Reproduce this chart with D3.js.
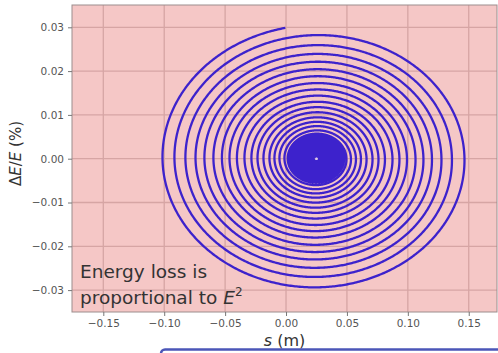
<!DOCTYPE html>
<html>
<head>
<meta charset="utf-8">
<script src="https://cdn.jsdelivr.net/npm/d3@7"></script>
<style>
  body { margin: 0; background: #fff; }
  svg { display: block; font-family: "DejaVu Sans", sans-serif; }
</style>
</head>
<body>
<div id="chart"></div>
<script>
// axis ticks
var xTicks = [-0.15, -0.10, -0.05, 0.00, 0.05, 0.10, 0.15];
var yTicks = [-0.03, -0.02, -0.01, 0.00, 0.01, 0.02, 0.03];

// spiral centre (s, dE/E) and start point
var centre = [0.025, 0.0];
var startS = 0.0;

// horizontal half-axis of the spiral (m), read every half turn (angle = k*pi)
var halfTurnAmp = [
  0.1314, 0.1264, 0.1215, 0.1166, 0.1112, 0.1076, 0.1026, 0.0993, 0.0948, 0.0920,
  0.0878, 0.0846, 0.0813, 0.0776, 0.0743, 0.0714, 0.0681, 0.0653, 0.0624, 0.0591,
  0.0562, 0.0534, 0.0509, 0.0484, 0.0460, 0.0435, 0.0411, 0.0386, 0.0365, 0.0345,
  0.0324, 0.0304, 0.0283, 0.0263, 0.0246, 0.0236, 0.0227, 0.0218, 0.0209, 0.0200,
  0.0191, 0.0183, 0.0175, 0.0167, 0.0159, 0.0152, 0.0145, 0.0137, 0.0131, 0.0124,
  0.0117, 0.0111, 0.0105, 0.0099, 0.0094, 0.0088, 0.0083, 0.0078, 0.0073, 0.0068,
  0.0063, 0.0059, 0.0055, 0.0051, 0.0047, 0.0043, 0.0039, 0.0036, 0.0033, 0.0030,
  0.0026, 0.0023, 0.0021, 0.0018
];
// ratio of vertical half-axis (dE/E) to horizontal half-axis (s)
var aspect = 0.237;

var W = 498, H = 353;
var margin = {left: 72, right: 497, top: 5, bottom: 312};

var svg = d3.select("#chart").append("svg")
  .attr("width", W).attr("height", H);

var x = d3.scaleLinear().domain([-0.1757, 0.1732]).range([margin.left, margin.right]);
var y = d3.scaleLinear().domain([-0.035, 0.035]).range([margin.bottom, margin.top + 0.4]);

var pw = margin.right - margin.left, ph = margin.bottom - margin.top;

// plot background
svg.append("rect")
  .attr("x", margin.left).attr("y", margin.top)
  .attr("width", pw).attr("height", ph)
  .attr("fill", "#f5c7c6");

svg.append("clipPath").attr("id", "clip")
  .append("rect")
  .attr("x", margin.left).attr("y", margin.top)
  .attr("width", pw).attr("height", ph);

// grid
var grid = svg.append("g").attr("stroke", "#d6a5a4").attr("stroke-width", 1.3);
grid.selectAll(".gx").data(xTicks).enter().append("line")
  .attr("x1", d => x(d)).attr("x2", d => x(d))
  .attr("y1", margin.top).attr("y2", margin.bottom);
grid.selectAll(".gy").data(yTicks).enter().append("line")
  .attr("y1", d => y(d)).attr("y2", d => y(d))
  .attr("x1", margin.left).attr("x2", margin.right);

// spiral points
function ampAt(t) {
  var k = t / Math.PI;
  var i = Math.floor(k);
  if (i >= halfTurnAmp.length - 1) return halfTurnAmp[halfTurnAmp.length - 1];
  var f = k - i;
  return halfTurnAmp[i] * (1 - f) + halfTurnAmp[i + 1] * f;
}
var pts = [];
var tEnd = (halfTurnAmp.length - 1) * Math.PI;
var started = false;
for (var t = Math.PI / 2; t <= tEnd; t += 0.01) {
  var a = ampAt(t);
  var s = centre[0] + a * Math.cos(t);
  var e = centre[1] + a * aspect * Math.sin(t);
  if (!started && s > startS) continue;
  started = true;
  pts.push([s, e]);
}

var line = d3.line().x(d => x(d[0])).y(d => y(d[1]));
svg.append("path")
  .attr("clip-path", "url(#clip)")
  .attr("d", line(pts))
  .attr("fill", "none")
  .attr("stroke", "#3d22cc")
  .attr("stroke-width", 2.3);

svg.append("circle")
  .attr("cx", x(centre[0])).attr("cy", y(centre[1]))
  .attr("r", 1.3).attr("fill", "#d9c8ee");

// frame
svg.append("rect")
  .attr("x", margin.left).attr("y", margin.top)
  .attr("width", pw).attr("height", ph)
  .attr("fill", "none").attr("stroke", "#9c8d8d").attr("stroke-width", 1);

// axes
var fmt = d => d3.format(".2f")(d).replace("-", "\u2212");
var xAxis = d3.axisBottom(x).tickValues(xTicks).tickFormat(fmt).tickSize(4).tickPadding(4);
var yAxis = d3.axisLeft(y).tickValues(yTicks).tickFormat(fmt).tickSize(4).tickPadding(4);

var gx = svg.append("g").attr("transform", "translate(0," + margin.bottom + ")").call(xAxis);
var gy = svg.append("g").attr("transform", "translate(" + margin.left + ",0)").call(yAxis);
[gx, gy].forEach(function (g) {
  g.select(".domain").remove();
  g.selectAll("line").attr("stroke", "#777");
  g.selectAll("text").attr("fill", "#555").style("font-size", "10.5px")
    .style("font-family", "DejaVu Sans");
});

// axis labels
var xl = svg.append("text")
  .attr("x", (margin.left + margin.right) / 2).attr("y", 346)
  .attr("text-anchor", "middle").attr("fill", "#333")
  .style("font-size", "16px");
xl.append("tspan").attr("font-style", "italic").text("s");
xl.append("tspan").text(" (m)");

var yl = svg.append("text")
  .attr("transform", "translate(21," + ((margin.top + margin.bottom) / 2 - 5) + ") rotate(-90)")
  .attr("text-anchor", "middle").attr("fill", "#333")
  .style("font-size", "15px");
yl.append("tspan").text("\u0394");
yl.append("tspan").attr("font-style", "italic").text("E");
yl.append("tspan").text("/");
yl.append("tspan").attr("font-style", "italic").text("E");
yl.append("tspan").text(" (%)");

// annotation
var note = svg.append("text").attr("fill", "#333").style("font-size", "18.5px");
note.append("tspan").attr("x", 80).attr("y", 278).text("Energy loss is");
var l2 = note.append("tspan").attr("x", 80).attr("y", 304);
l2.text("proportional to ");
l2.append("tspan").attr("font-style", "italic").text("E");
l2.append("tspan").attr("dy", -8).style("font-size", "12px").text("2");

// slide box edge at the bottom
svg.append("rect")
  .attr("x", 161).attr("y", 349.5)
  .attr("width", 400).attr("height", 30).attr("rx", 4)
  .attr("fill", "#fff").attr("stroke", "#4b56b8").attr("stroke-width", 2.5);
</script>
</body>
</html>
